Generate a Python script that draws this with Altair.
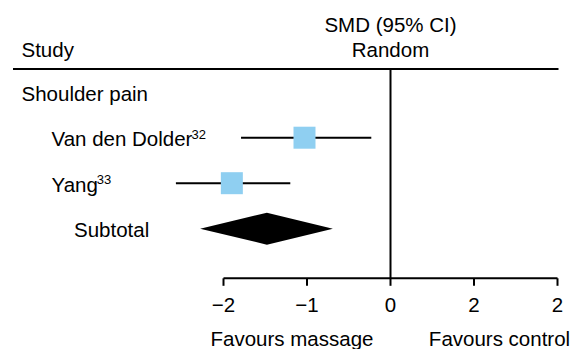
import altair as alt
import pandas as pd

# ---------------- data ----------------
group_label = "Shoulder pain"
study_names = ["Van den Dolder", "Yang"]
study_refs = ["32", "33"]
smd = [-1.03, -1.90]
ci_low = [-1.79, -2.57]
ci_high = [-0.23, -1.20]
subtotal_label = "Subtotal"
subtotal_smd = -1.48
subtotal_low = -2.28
subtotal_high = -0.69
tick_values = [-2, -1, 0, 1, 2]
tick_labels = ["\u22122", "\u22121", "0", "2", "2"]
header_left = "Study"
header_right = ["SMD (95% CI)", "Random"]
favours_labels = ["Favours massage", "Favours control"]

# ---------------- layout (pixels of the plot area) ----------------
W, H = 568, 341
PX_PER_UNIT = 83.5
ZERO_PX = 382.5
ROW_PX = 45.5
FIRST_ROW_PX = 84.2
FONT = "Liberation Sans"
FS = 20.5
SUP_FS = 13
SQUARE_SIDE = 22
DIAMOND_HALF_PX = 16
TEXT_DY = 8.5
SUP_RAISE = 7.5
SUP_GAP = -2.5

# Arial / Liberation Sans advance widths (1/1000 em) for measuring names
ADV = {"V": 667, "a": 556, "n": 556, " ": 278, "d": 556, "e": 556, "D": 722,
       "o": 556, "l": 222, "r": 333, "Y": 667, "g": 556}

def text_width(s, size):
    return sum(ADV.get(c, 556) for c in s) * size / 1000.0

def xu(px):
    return (px - ZERO_PX) / PX_PER_UNIT

def yu(py):
    return 1 + (py - FIRST_ROW_PX) / ROW_PX

x_dom = [xu(0), xu(W)]
y_dom = [yu(0), yu(H)]
xs = alt.Scale(domain=x_dom, nice=False, zero=False)
ys = alt.Scale(domain=y_dom, nice=False, zero=False, reverse=True)

def X(f):
    return alt.X(f, type="quantitative", scale=xs, axis=None)

def Y(f):
    return alt.Y(f, type="quantitative", scale=ys, axis=None)

indent = {0: xu(13.5), 1: xu(43.5), 2: xu(66)}

# rows
n = len(study_names)
study_rows = list(range(2, 2 + n))
sub_row = 2 + n

studies = pd.DataFrame({
    "name": study_names, "smd": smd, "lo": ci_low, "hi": ci_high, "row": study_rows,
})

row_text = pd.DataFrame({
    "text": [group_label] + study_names + [subtotal_label],
    "y": [1] + study_rows + [sub_row],
    "x": [indent[0]] + [indent[1]] * n + [indent[2]],
})

sup_text = pd.DataFrame({
    "text": study_refs,
    "y": study_rows,
    "x": [indent[1] + (text_width(s, FS) + SUP_GAP) / PX_PER_UNIT for s in study_names],
})

h = DIAMOND_HALF_PX / ROW_PX
diamond = pd.DataFrame({
    "x": [subtotal_low, subtotal_smd, subtotal_high],
    "y": [sub_row, sub_row - h, sub_row],
    "y2": [sub_row, sub_row + h, sub_row],
})

header_y_line = yu(61)
axis_y = yu(270.3)
tick_end = yu(277.8)
ticklab_y = yu(304)
favours_y = yu(338)

head_left = pd.DataFrame({"text": [header_left], "x": [indent[0]], "y": [yu(48.8)]})

center_text = pd.DataFrame({
    "text": header_right + tick_labels + favours_labels,
    "x": [0, 0] + tick_values + [xu(284), xu(491.5)],
    "y": [yu(24.2), yu(48.8)] + [ticklab_y] * len(tick_values) + [favours_y] * 2,
})

rules_h = pd.DataFrame({
    "x": [xu(5), tick_values[0]],
    "x2": [xu(550.5), tick_values[-1]],
    "y": [header_y_line, axis_y],
})
rules_v = pd.DataFrame({
    "x": [0] + tick_values,
    "y": [header_y_line] + [axis_y] * len(tick_values),
    "y2": [axis_y] + [tick_end] * len(tick_values),
})

ci = alt.Chart(studies).mark_rule(color="black", strokeWidth=2).encode(
    x=X("lo"), x2="hi", y=Y("row")
)
squares = alt.Chart(studies).mark_square(
    size=SQUARE_SIDE * SQUARE_SIDE, color="#8FCFF1", opacity=1, strokeWidth=0
).encode(x=X("smd"), y=Y("row"))

dia = alt.Chart(diamond).mark_area(color="black", orient="vertical").encode(
    x=X("x"), y=Y("y"), y2="y2"
)

hlines = alt.Chart(rules_h).mark_rule(color="black", strokeWidth=2).encode(
    x=X("x"), x2="x2", y=Y("y")
)
vlines = alt.Chart(rules_v).mark_rule(color="black", strokeWidth=2).encode(
    x=X("x"), y=Y("y"), y2="y2"
)

txt_rows = alt.Chart(row_text).mark_text(
    align="left", baseline="alphabetic", font=FONT, fontSize=FS, color="black", dy=TEXT_DY
).encode(x=X("x"), y=Y("y"), text="text:N")

txt_sup = alt.Chart(sup_text).mark_text(
    align="left", baseline="alphabetic", font=FONT, fontSize=SUP_FS, color="black",
    dy=TEXT_DY - SUP_RAISE
).encode(x=X("x"), y=Y("y"), text="text:N")

txt_head = alt.Chart(head_left).mark_text(
    align="left", baseline="alphabetic", font=FONT, fontSize=FS, color="black"
).encode(x=X("x"), y=Y("y"), text="text:N")

txt_center = alt.Chart(center_text).mark_text(
    align="center", baseline="alphabetic", font=FONT, fontSize=FS, color="black"
).encode(x=X("x"), y=Y("y"), text="text:N")

chart = alt.layer(
    hlines, vlines, ci, squares, dia, txt_rows, txt_sup, txt_head, txt_center
).properties(
    width=W, height=H, padding=0,
    autosize=alt.AutoSizeParams(type="none"),
).configure_view(stroke=None)

chart.save("out.html", embed_options={"renderer": "svg", "actions": False})
